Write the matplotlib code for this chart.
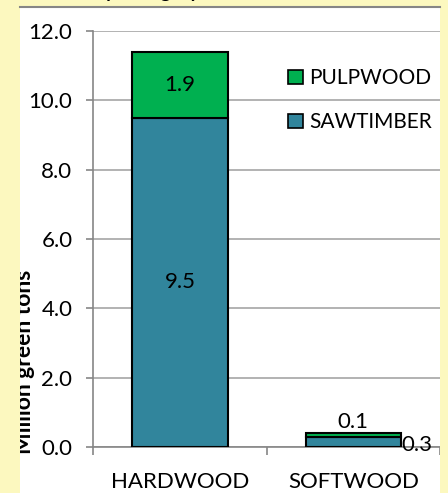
import matplotlib
matplotlib.use("Agg")
import matplotlib.pyplot as plt
from matplotlib.patches import Rectangle, Patch
import numpy as np

categories = ["HARDWOOD", "SOFTWOOD"]
sawtimber = [9.5, 0.3]
pulpwood = [1.9, 0.1]
yticks = [0.0, 2.0, 4.0, 6.0, 8.0, 10.0, 12.0]

W, H = 448, 493
FONT = "Lato"
plt.rcParams["font.family"] = [FONT, "DejaVu Sans"]

YELLOW = "#FCF8BF"
GREEN = "#00B050"
TEAL = "#31859C"
GRID = "#A6A6A6"
AXIS = "#868686"
FS = 16

fig = plt.figure(figsize=(W / 100, H / 100), dpi=100, facecolor="white")

def fx(px):
    return px / W

def fy(py):
    return 1 - py / H

ax = fig.add_axes([fx(93.3), fy(447), fx(440) - fx(93.3), fy(31) - fy(447)])
ax.set_facecolor("none")
x = np.arange(len(categories))
width = 0.55
ax.bar(x, sawtimber, width, color=TEAL, edgecolor="black", linewidth=1.5, zorder=3)
ax.bar(x, pulpwood, width, bottom=sawtimber, color=GREEN, edgecolor="black", linewidth=1.5, zorder=3)

ax.set_xlim(-0.5, (440 - 184.3) / 182)
ax.set_ylim(0, 12)
ax.set_yticks(yticks)
ax.set_yticklabels([f"{v:.1f}" for v in yticks])
ax.yaxis.grid(True, color=GRID, linewidth=1.2, zorder=0)
ax.set_axisbelow(True)
for s in ["top", "right"]:
    ax.spines[s].set_visible(False)
for s in ["left", "bottom"]:
    ax.spines[s].set_color(AXIS)
    ax.spines[s].set_linewidth(1.2)
ax.tick_params(axis="y", length=5, width=1.2, color=AXIS, pad=10, labelsize=FS)
ax.set_xticks(x)
ax.set_xticklabels(categories)
ax.tick_params(axis="x", which="major", length=0, pad=18, labelsize=FS)
ax.set_xticks([-0.5, 0.5, 1.5], minor=True)
ax.tick_params(axis="x", which="minor", length=6, width=1.2, color=AXIS)

# value labels
ax.text(0, sawtimber[0] + pulpwood[0] / 2, f"{pulpwood[0]:.1f}", ha="center", va="center", fontsize=FS, zorder=5)
ax.text(0, sawtimber[0] / 2, f"{sawtimber[0]:.1f}", ha="center", va="center", fontsize=FS, zorder=5)
ax.text(1, sawtimber[1] + pulpwood[1] + 0.02, f"{pulpwood[1]:.1f}", ha="center", va="bottom", fontsize=FS, zorder=5)
ax.text(1 + width / 2 + 0.005, sawtimber[1] / 2 - 0.08, f"{sawtimber[1]:.1f}", ha="left", va="center", fontsize=FS, zorder=5, clip_on=False)

handles = [Patch(facecolor=GREEN, edgecolor="black", linewidth=1.2, label="PULPWOOD"),
           Patch(facecolor=TEAL, edgecolor="black", linewidth=1.2, label="SAWTIMBER")]
ax.legend(handles=handles, loc="upper left", bbox_to_anchor=(fx(280), fy(60)), bbox_transform=fig.transFigure,
          frameon=False, handlelength=0.7, handleheight=0.7, handletextpad=0.3, labelspacing=1.15,
          fontsize=15, borderaxespad=0)

# y-axis title (partly hidden by the yellow frame, as in the reference)
fig.text(fx(35), fy(362), "Million green tons", rotation=90, ha="right", va="center",
         fontsize=16.5, fontweight="bold", zorder=5)

# yellow outer frame over the edges
fig.patches.append(Rectangle((0, 0), fx(20), 1, transform=fig.transFigure, facecolor=YELLOW, edgecolor="none", zorder=20))
fig.patches.append(Rectangle((fx(440), 0), 1 - fx(440), 1, transform=fig.transFigure, facecolor=YELLOW, edgecolor="none", zorder=20))
fig.patches.append(Rectangle((0, fy(6)), 1, 1 - fy(6), transform=fig.transFigure, facecolor=YELLOW, edgecolor="none", zorder=20))
fig.add_artist(plt.Line2D([fx(20), fx(440)], [fy(6.5), fy(6.5)], transform=fig.transFigure, color=AXIS, linewidth=1.5, zorder=21))
fig.text(fx(20), fy(-1.5), "Harvest by Category", ha="left", va="baseline", fontsize=14, fontweight="bold", zorder=22)

fig.savefig("out.png", dpi=100, facecolor=fig.get_facecolor())
